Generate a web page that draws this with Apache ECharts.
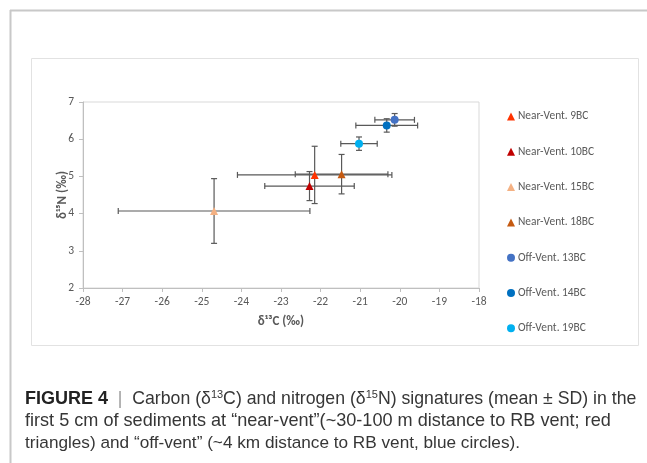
<!DOCTYPE html>
<html>
<head>
<meta charset="utf-8">
<script src="https://cdn.jsdelivr.net/npm/echarts@6/dist/echarts.min.js"></script>
<style>
  html, body { margin: 0; padding: 0; background: #fff; }
  #chart { width: 647px; height: 463px; }
</style>
</head>
<body>
<div id="chart"></div>
<script>
// sample stations
const sites = ['Near-Vent. 9BC', 'Near-Vent. 10BC', 'Near-Vent. 15BC', 'Near-Vent. 18BC', 'Off-Vent. 13BC', 'Off-Vent. 14BC', 'Off-Vent. 19BC']
// mean values and SD
const d13C = [-22.15, -22.28, -24.69, -21.47, -20.13, -20.33, -21.03]
const d15N = [5.04, 4.74, 4.07, 5.06, 6.52, 6.37, 5.88]
const sdC = [1.95, 1.13, 2.42, 1.17, 0.50, 0.78, 0.46]
const sdN = [0.77, 0.39, 0.87, 0.53, 0.17, 0.18, 0.18]
const shapes = ['triangle', 'triangle', 'triangle', 'triangle', 'circle', 'circle', 'circle']
const colors = ['#ff3300', '#c00000', '#f4b183', '#c55a11', '#4472c4', '#0070c0', '#00b0f0']

const xTicks = { min: -28, max: -18, interval: 1 }
const yTicks = { min: 2, max: 7, interval: 1 }

const font = 'Carlito, Lato, "Open Sans", sans-serif'
const capFont = '"Liberation Sans", Arial, sans-serif'

const chart = echarts.init(document.getElementById('chart'), null, { renderer: 'canvas' })

const errData = sites.map((s, i) => [d13C[i], d15N[i], sdC[i], sdN[i]])

function renderErr(params, api) {
  const x = api.value(0)
  const y = api.value(1)
  const ex = api.value(2)
  const ey = api.value(3)
  const l = api.coord([x - ex, y])
  const r = api.coord([x + ex, y])
  const t = api.coord([x, y + ey])
  const b = api.coord([x, y - ey])
  const cap = 3
  const style = { stroke: '#595959', lineWidth: 1.2 }
  const line = (x1, y1, x2, y2) => ({ type: 'line', shape: { x1, y1, x2, y2 }, style })
  return {
    type: 'group',
    children: [
      line(l[0], l[1], r[0], r[1]),
      line(l[0], l[1] - cap, l[0], l[1] + cap),
      line(r[0], r[1] - cap, r[0], r[1] + cap),
      line(t[0], t[1], b[0], b[1]),
      line(t[0] - cap, t[1], t[0] + cap, t[1]),
      line(b[0] - cap, b[1], b[0] + cap, b[1])
    ]
  }
}

const series = [{
  type: 'custom',
  renderItem: renderErr,
  data: errData,
  z: 1,
  silent: true
}]
sites.forEach((s, i) => {
  series.push({
    name: s,
    type: 'scatter',
    symbol: shapes[i],
    symbolSize: 8,
    itemStyle: { color: colors[i], opacity: 1 },
    data: [[d13C[i], d15N[i]]],
    z: 3
  })
})

chart.setOption({
  backgroundColor: '#fff',
  animation: false,
  grid: {
    left: 83,
    right: 168,
    top: 102,
    bottom: 175,
    show: true,
    borderColor: '#d9d9d9',
    borderWidth: 1
  },
  legend: {
    orient: 'vertical',
    left: 502,
    top: 105.5,
    itemGap: 23.3,
    itemWidth: 8,
    itemHeight: 8,
    data: sites.map((s, i) => ({ name: s, icon: shapes[i] })),
    textStyle: { fontFamily: font, fontSize: 11.4, color: '#595959', lineHeight: 12, padding: [0, 0, 0, -2] }
  },
  xAxis: {
    type: 'value',
    min: xTicks.min,
    max: xTicks.max,
    interval: xTicks.interval,
    name: 'δ¹³C (‰)',
    nameLocation: 'middle',
    nameGap: 27,
    nameMoveOverlap: false,
    nameTextStyle: { fontFamily: font, fontSize: 13, fontWeight: 'bold', color: '#595959' },
    axisLine: { onZero: false, lineStyle: { color: '#bfbfbf' } },
    axisTick: { show: true, length: 4, lineStyle: { color: '#bfbfbf' } },
    axisLabel: { fontFamily: font, fontSize: 11.5, color: '#595959', margin: 8 },
    splitLine: { show: false }
  },
  yAxis: {
    type: 'value',
    min: yTicks.min,
    max: yTicks.max,
    interval: yTicks.interval,
    name: 'δ¹⁵N (‰)',
    nameLocation: 'middle',
    nameGap: 14,
    nameMoveOverlap: false,
    nameTextStyle: { fontFamily: font, fontSize: 13, fontWeight: 'bold', color: '#595959' },
    axisLine: { show: true, onZero: false, lineStyle: { color: '#bfbfbf' } },
    axisTick: { show: true, length: 4, lineStyle: { color: '#bfbfbf' } },
    axisLabel: { fontFamily: font, fontSize: 11.5, color: '#595959', margin: 9 },
    splitLine: { show: false }
  },
  graphic: [
    { type: 'line', shape: { x1: 10, y1: 10.5, x2: 647, y2: 10.5 }, style: { stroke: '#c8c8c8', lineWidth: 2 } },
    { type: 'line', shape: { x1: 10.5, y1: 10, x2: 10.5, y2: 463 }, style: { stroke: '#c8c8c8', lineWidth: 2 } },
    { type: 'rect', shape: { x: 31.5, y: 58.5, width: 607, height: 287 }, style: { fill: 'none', stroke: '#e2e2e2', lineWidth: 1 }, z: -1 },
    {
      type: 'text', left: 25, top: 389,
      style: {
        text: '{b|FIGURE 4}  {p||}  Carbon (δ{s|13}C) and nitrogen (δ{s|15}N) signatures (mean ± SD) in the',
        font: '17.7px ' + capFont,
        fill: '#363636',
        rich: {
          b: { fontFamily: capFont, fontSize: 18, fontWeight: 'bold', fill: '#222' },
          p: { fontFamily: capFont, fontSize: 17.5, fill: '#999' },
          s: { fontFamily: capFont, fontSize: 11, verticalAlign: 'top', lineHeight: 20 }
        }
      }
    },
    {
      type: 'text', left: 25, top: 412,
      style: { text: 'first 5 cm of sediments at “near-vent”(~30-100 m distance to RB vent; red', font: '18.1px ' + capFont, fill: '#363636' }
    },
    {
      type: 'text', left: 25, top: 435,
      style: { text: 'triangles) and “off-vent” (~4 km distance to RB vent, blue circles).', font: '17.2px ' + capFont, fill: '#363636' }
    }
  ],
  series
})
</script>
</body>
</html>
